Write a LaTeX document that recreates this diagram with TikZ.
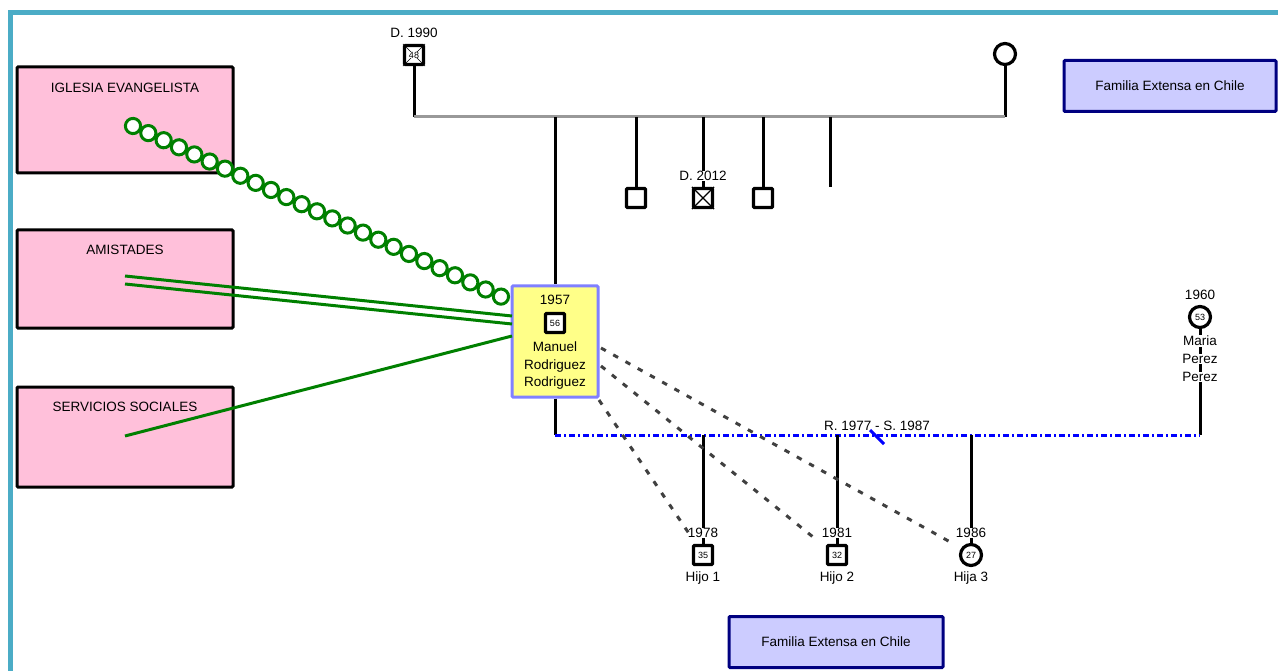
\documentclass[tikz,border=0pt]{standalone}
\usepackage{fontspec}
\setmainfont{Liberation Sans}
\usetikzlibrary{decorations.markings}
\definecolor{frame}{HTML}{4BACC6}
\definecolor{ecopink}{HTML}{FFC0DA}
\definecolor{egofill}{HTML}{FFFF88}
\definecolor{egoedge}{HTML}{8080FF}
\definecolor{extfill}{HTML}{CCCCFF}
\definecolor{extedge}{HTML}{000080}
\definecolor{tiegreen}{HTML}{008000}
\definecolor{sibgray}{HTML}{999999}
\definecolor{dotgray}{HTML}{404040}
\begin{document}
\begin{tikzpicture}[x=1pt,y=-1pt,
  every node/.style={font=\fontsize{13.5}{15}\selectfont, inner sep=0pt},
  border/.style={draw=frame, line width=5pt},
  ecobox/.style={draw=black, line width=3pt, fill=ecopink, minimum width=216pt, rounded corners=1pt},
  egobox/.style={draw=egoedge, line width=3pt, fill=egofill, minimum width=86pt, minimum height=111pt, rounded corners=1pt},
  extbox/.style={draw=extedge, line width=3pt, fill=extfill, minimum height=51pt, rounded corners=1pt},
  male/.style={draw=black, line width=3.2pt, fill=white, minimum size=19pt, rounded corners=1pt, font=\fontsize{9}{10}\selectfont},
  female/.style={circle, draw=black, line width=3.2pt, fill=white, minimum size=21pt, font=\fontsize{9}{10}\selectfont},
  lbl/.style={fill=white, inner sep=0.6pt},
  kin/.style={draw=black, line width=3pt},
  sibline/.style={draw=sibgray, line width=3pt},
  union/.style={draw=blue, line width=3pt, dash pattern=on 6pt off 3pt on 2pt off 3pt},
  tie/.style={draw=tiegreen, line width=3pt},
  weak/.style={draw=dotgray, line width=3pt, dash pattern=on 5.5pt off 8.5pt},
  coil/.style={decoration={markings, mark=between positions 0 and 1 step 16.9pt with {\draw[tiegreen, line width=3pt, fill=white] (0,0) circle (7.6pt);}}, decorate}
]
\useasboundingbox (0,0) rectangle (1278,671);

% frame
\draw[border] (8,13) -- (1278,13);
\draw[border] (10,13) -- (10,671);

% ecomap boxes
\node[ecobox, minimum height=106pt] (iglesia) at (125,120) {};
\node at ([yshift=-22pt]iglesia.north) {IGLESIA EVANGELISTA};
\node[ecobox, minimum height=98pt] (amigos) at (125,279) {};
\node at ([yshift=-21pt]amigos.north) {AMISTADES};
\node[ecobox, minimum height=100pt] (social) at (125,437) {};
\node at ([yshift=-21pt]social.north) {SERVICIOS SOCIALES};

\node[extbox, minimum width=212pt] (ext1) at (1170,86) {Familia Extensa en Chile};
\node[extbox, minimum width=214pt] (ext2) at (836,642) {Familia Extensa en Chile};

% parents
\node[male] (padre) at (414,55) {};
\draw[line width=0.6pt] (padre.north west) -- (padre.south east) (padre.north east) -- (padre.south west);
\node[fill=white, font=\fontsize{9}{10}\selectfont, inner sep=0.3pt] at (padre) {48};
\node at (414,33) {D. 1990};
\node[female] (madre) at (1005,54) {};

\coordinate (pl) at (414,117);
\coordinate (pr) at (1005,117);
\draw[kin] (padre.south) -- (pl);
\draw[kin] (madre.south) -- (pr);
\draw[sibline] (pl) -- (pr);

% siblings
\coordinate (s0) at (555,117);
\coordinate (s1) at (636,117);
\coordinate (s2) at (703,117);
\coordinate (s3) at (763,117);
\coordinate (s4) at (830,117);
\coordinate (s4end) at (830,187);
\node[male] (h1) at (636,198) {};
\node[male] (h2) at (703,198) {};
\draw[line width=1.2pt] (h2.north west) -- (h2.south east) (h2.north east) -- (h2.south west);
\node[male] (h3) at (763,198) {};
\draw[kin] (s1) -- (h1.north);
\draw[kin] (s2) -- (h2.north);
\draw[kin] (s3) -- (h3.north);
\draw[kin] (s4) -- (s4end);
\node[lbl] at (703,176) {D. 2012};

% ego
\node[egobox] (ego) at (555,341.5) {};
\node at (555,300) {1957};
\node[male] (egosym) at (555,323) {56};
\node[align=center, font=\fontsize{13.5}{17.5}\selectfont] at (555,366) {Manuel\\Rodriguez\\Rodriguez};
\draw[kin] (s0) -- (ego.north);

% partner
\node at (1200,295) {1960};
\node[female] (maria) at (1200,317) {53};
\coordinate (ul) at (555,435);
\coordinate (ur) at (1200,435);
\draw[kin] (maria.south) -- (ur);
\node[lbl] at (1200,341) {Maria};
\node[lbl] at (1200,359) {Perez};
\node[lbl] at (1200,377) {Perez};
\draw[kin] (ego.south) -- (ul);
\draw[union] (ul) -- (ur);
\coordinate (sep) at (877,437);
\draw[blue, line width=3pt] ([shift={(-7,-7)}]sep) -- ([shift={(7,7)}]sep);
\node at (877,426) {R. 1977 - S. 1987};

% children
\coordinate (c1) at (703,435);
\coordinate (c2) at (837,435);
\coordinate (c3) at (971,435);
\node[male] (hijo1) at (703,555) {35};
\node[male] (hijo2) at (837,555) {32};
\node[female] (hija3) at (971,555) {27};
\draw[kin] (c1) -- (hijo1.north);
\draw[kin] (c2) -- (hijo2.north);
\draw[kin] (c3) -- (hija3.north);
\node[lbl] at (703,533) {1978};
\node[lbl] at (837,533) {1981};
\node[lbl] at (971,533) {1986};
\node at (703,578) {Hijo 1};
\node at (837,578) {Hijo 2};
\node at (971,578) {Hija 3};

% weak ties to the children
\coordinate (w1) at (601,348);
\coordinate (w2) at (601,366);
\coordinate (w3) at (599,400);
\coordinate (w1e) at (952,543);
\coordinate (w2e) at (818,541);
\coordinate (w3e) at (690,535);
\draw[weak] (w1) -- (w1e);
\draw[weak] (w2) -- (w2e);
\draw[weak] (w3) -- (w3e);

% ties to the ecomap
\coordinate (ig) at (133,126);
\coordinate (egoA) at (504,298);
\draw[coil] (ig) -- (egoA);
\coordinate (am1) at (125,276);
\coordinate (am2) at (125,284);
\coordinate (egoB1) at (512,316);
\coordinate (egoB2) at (512,324);
\draw[tie] (am1) -- (egoB1);
\draw[tie] (am2) -- (egoB2);
\coordinate (so) at (125,436);
\coordinate (egoC) at (512,336);
\draw[tie] (so) -- (egoC);
\end{tikzpicture}
\end{document}
